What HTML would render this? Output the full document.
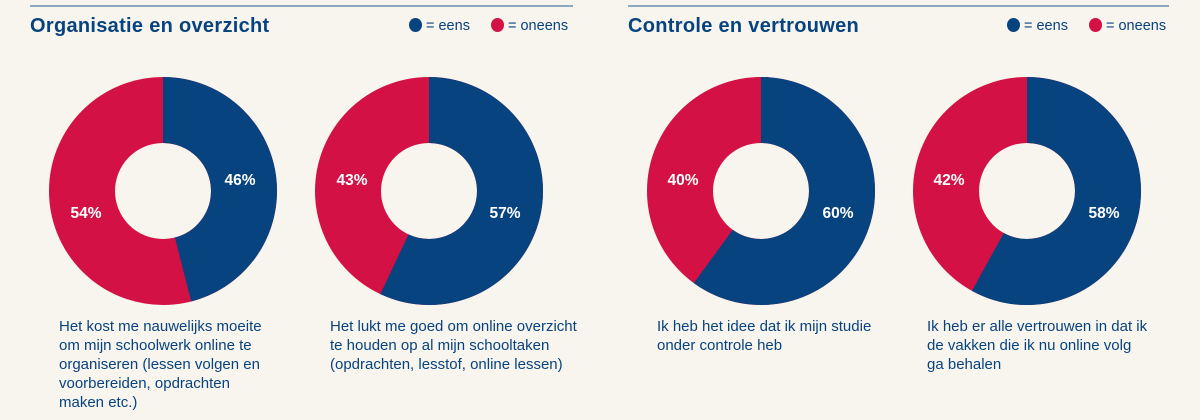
<!DOCTYPE html><html><head><style>
body{margin:0;background:#f8f4ee;}
#w{position:relative;width:1200px;height:420px;background:#f8f4ee;font-family:"Liberation Sans",sans-serif;color:#07437f;overflow:hidden}
.ln{position:absolute;top:5px;height:2px;background:#8ea8c2}
.t{position:absolute;top:15px;font-size:20px;font-weight:bold;color:#07437f;letter-spacing:0.3px}
.lg{position:absolute;top:18px;font-size:14.5px;color:#07437f}
.d{display:inline-block;width:13px;height:14px;border-radius:50%;vertical-align:-2px;margin-right:4px}
.cap{position:absolute;top:317px;font-size:15px;line-height:19px;color:#07437f}
svg{position:absolute;left:0;top:0}
</style></head><body><div id="w">
<div class="ln" style="left:30px;width:543px"></div>
<div class="ln" style="left:628px;width:541px"></div>
<div class="t" style="left:30px">Organisatie en overzicht</div>
<div class="t" style="left:628px">Controle en vertrouwen</div>
<div class="lg" style="left:409px"><span class="d" style="background:#07437f"></span>= eens</div>
<div class="lg" style="left:491px"><span class="d" style="background:#d31145"></span>= oneens</div>
<div class="lg" style="left:1007px"><span class="d" style="background:#07437f"></span>= eens</div>
<div class="lg" style="left:1089px"><span class="d" style="background:#d31145"></span>= oneens</div>
<svg width="1200" height="420" font-family="Liberation Sans, sans-serif" font-weight="bold" font-size="15.5" fill="#fff" text-anchor="middle">
<g transform="translate(163,191) rotate(-90)"><circle r="81" fill="none" stroke="#d31145" stroke-width="66"/><circle r="81" fill="none" stroke="#07437f" stroke-width="66" stroke-dasharray="234.1 1000"/></g>
<g transform="translate(429,191) rotate(-90)"><circle r="81" fill="none" stroke="#d31145" stroke-width="66"/><circle r="81" fill="none" stroke="#07437f" stroke-width="66" stroke-dasharray="290.1 1000"/></g>
<g transform="translate(761,191) rotate(-90)"><circle r="81" fill="none" stroke="#d31145" stroke-width="66"/><circle r="81" fill="none" stroke="#07437f" stroke-width="66" stroke-dasharray="305.4 1000"/></g>
<g transform="translate(1027,191) rotate(-90)"><circle r="81" fill="none" stroke="#d31145" stroke-width="66"/><circle r="81" fill="none" stroke="#07437f" stroke-width="66" stroke-dasharray="295.2 1000"/></g>
<text x="240" y="185">46%</text><text x="86" y="218">54%</text>
<text x="352" y="185">43%</text><text x="505" y="218">57%</text>
<text x="683" y="185">40%</text><text x="838" y="218">60%</text>
<text x="949" y="185">42%</text><text x="1104" y="218">58%</text>
</svg>
<div class="cap" style="left:59px">Het kost me nauwelijks moeite<br>om mijn schoolwerk online te<br>organiseren (lessen volgen en<br>voorbereiden, opdrachten<br>maken etc.)</div>
<div class="cap" style="left:330px">Het lukt me goed om online overzicht<br>te houden op al mijn schooltaken<br>(opdrachten, lesstof, online lessen)</div>
<div class="cap" style="left:657px">Ik heb het idee dat ik mijn studie<br>onder controle heb</div>
<div class="cap" style="left:927px">Ik heb er alle vertrouwen in dat ik<br>de vakken die ik nu online volg<br>ga behalen</div>
</div></body></html>
